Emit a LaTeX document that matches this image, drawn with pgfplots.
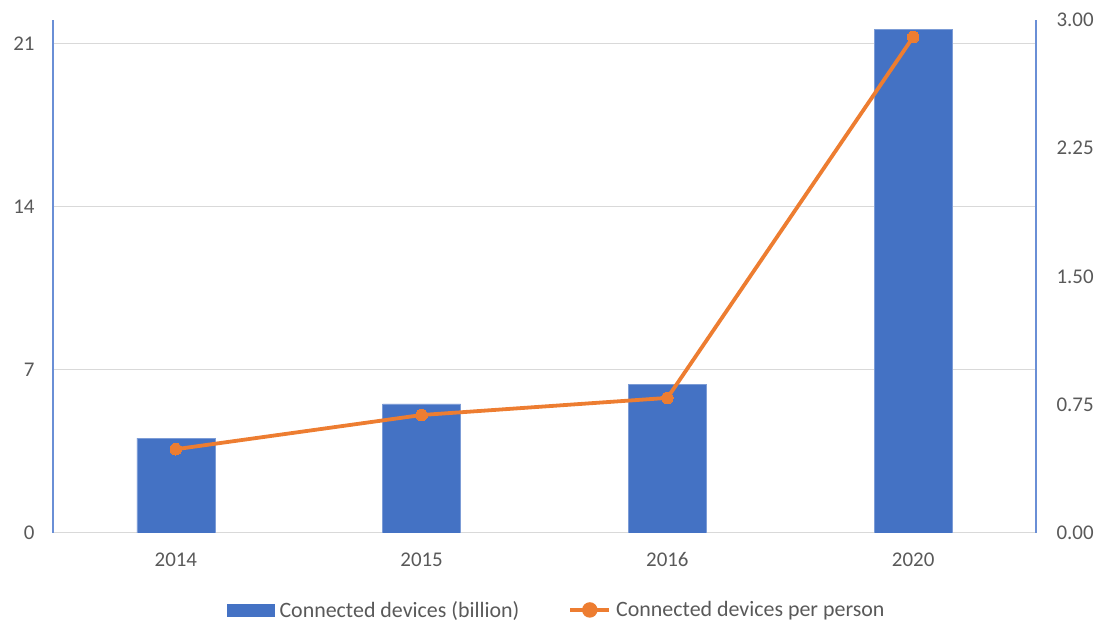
\documentclass[border=0pt]{standalone}
\usepackage{fontspec}
\setmainfont{Carlito}
\usepackage{pgfplots}
\pgfplotsset{compat=1.18}
\definecolor{barblue}{HTML}{4472C4}
\definecolor{lorange}{HTML}{ED7D31}
\definecolor{gridgray}{HTML}{D9D9D9}
\definecolor{txtgray}{HTML}{595959}
\definecolor{axblue}{HTML}{6A8FD6}
\begin{document}
\begin{tikzpicture}[x=1bp,y=1bp]
\path[use as bounding box] (-53,-90) rectangle (1049,533);
\begin{axis}[
  at={(0,0)}, anchor=south west,
  scale only axis, width=983bp, height=513bp,
  xmin=-0.5, xmax=3.5, ymin=0, ymax=22.03,
  xtick={0,1,2,3}, xticklabels={2014,2015,2016,2020},
  ytick={0,7,14,21},
  axis x line*=bottom, axis y line*=left,
  ymajorgrids, grid style={gridgray, line width=1bp},
  x axis line style={gridgray, line width=1bp, -},
  y axis line style={axblue, line width=1.3bp, -},
  major tick length=0pt,
  /pgf/number format/assume math mode=true,
  tick label style={font=\fontsize{21}{24}\selectfont, text=txtgray},
  yticklabel style={xshift=-15bp},
  xticklabel style={yshift=-16bp},
]
\addplot[ybar, bar width=78bp, fill=barblue, draw=barblue!70!white, line width=0.5bp]
  coordinates {(0,4.07) (1,5.55) (2,6.39) (3,21.63)};
\end{axis}
\begin{axis}[
  at={(0,0)}, anchor=south west,
  scale only axis, width=983bp, height=513bp,
  xmin=-0.5, xmax=3.5, ymin=0, ymax=3,
  axis x line=none, axis y line*=right,
  ytick={0,0.75,1.5,2.25,3},
  y axis line style={axblue, line width=1.3bp, -},
  major tick length=0pt,
  /pgf/number format/assume math mode=true,
  yticklabel={\pgfmathprintnumber[fixed,fixed zerofill,precision=2]{\tick}},
  tick label style={font=\fontsize{21}{24}\selectfont, text=txtgray},
  yticklabel style={xshift=17bp},
  legend style={at={(0.513,-0.150)}, anchor=center, draw=none, fill=none,
    legend columns=2, font=\fontsize{22}{25}\selectfont, text=txtgray,
    /tikz/every even column/.append style={column sep=46bp},
    inner sep=0pt, nodes={inner sep=3bp}},
  legend cell align=left,
]
\addlegendimage{legend image code/.code={\fill[barblue] (0bp,-6bp) rectangle (47bp,6bp); \path (49bp,0bp);}}
\addlegendentry{Connected devices (billion)}
\addplot[color=lorange, line width=3.8bp, mark=*, mark size=5.8bp,
  mark options={fill=lorange, draw=lorange, line width=0pt},
  legend image code/.code={\draw[lorange, line width=3.8bp] (0bp,0bp) -- (39bp,0bp); \fill[lorange] (19.5bp,0bp) circle (5.8bp); \path (41bp,0bp);}]
  coordinates {(0,0.49) (1,0.69) (2,0.79) (3,2.90)};
\addlegendentry{Connected devices per person}
\end{axis}
\end{tikzpicture}
\end{document}
